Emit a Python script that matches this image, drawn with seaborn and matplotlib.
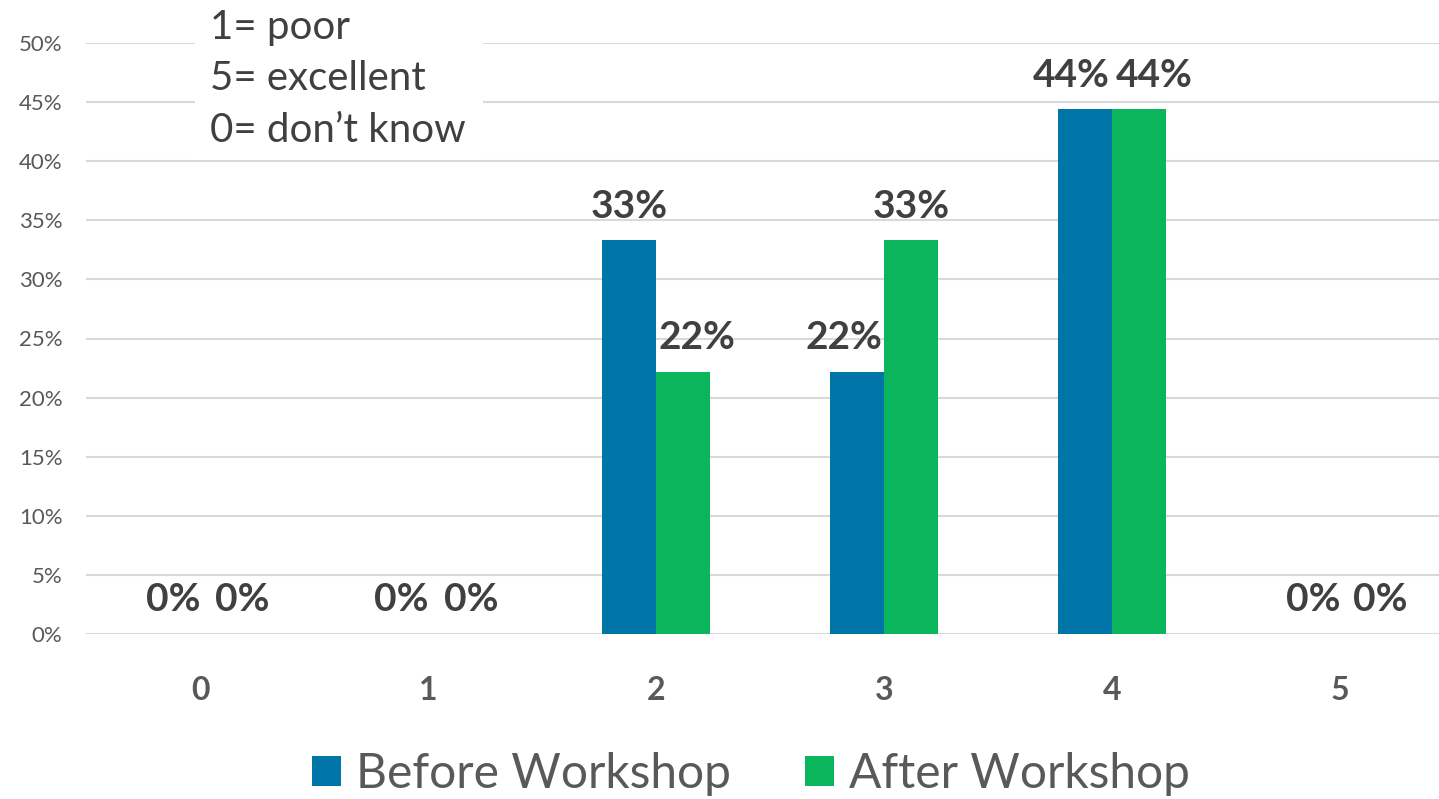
import matplotlib
matplotlib.use("Agg")
import matplotlib.pyplot as plt
import matplotlib.patches as mpatches
from matplotlib.ticker import PercentFormatter
import seaborn as sns
import pandas as pd

# Ratings given by workshop participants (share of respondents)
ratings = ["0", "1", "2", "3", "4", "5"]
before_workshop = [0.0, 0.0, 0.333, 0.222, 0.444, 0.0]
after_workshop = [0.0, 0.0, 0.222, 0.333, 0.444, 0.0]
series_names = ["Before Workshop", "After Workshop"]
colors = ["#0076A8", "#0BB55B"]
scale_notes = ["1= poor", "5= excellent", "0= don\u2019t know"]

# Sideways nudges (in pixels) that keep neighbouring value labels apart
label_nudge = [
    [0, 0, 0, -13, -14, 0],
    [15, 16, 14, 0, 15, 13],
]

df = pd.DataFrame({
    "rating": ratings * 2,
    "share": before_workshop + after_workshop,
    "when": [series_names[0]] * len(ratings) + [series_names[1]] * len(ratings),
})

sns.set_theme(style="white")
plt.rcParams["font.family"] = ["Lato", "DejaVu Sans"]

W, H = 1439, 799
DPI = 100
fig = plt.figure(figsize=(W / DPI, H / DPI), dpi=DPI)
ax_left, ax_right, ax_top, ax_bottom = 86, 1439, 43, 634
ax = fig.add_axes([ax_left / W, 1 - ax_bottom / H,
                   (ax_right - ax_left) / W, (ax_bottom - ax_top) / H])

sns.barplot(data=df, x="rating", y="share", hue="when", order=ratings,
            hue_order=series_names, palette=colors, width=0.475, gap=0,
            legend=False, ax=ax, saturation=1, edgecolor="none", linewidth=0)

ax.set_ylim(0, 0.5)
ax.set_xlim(-0.5, (ax_right - ax_left) / 228 - 0.5)
ax.set_yticks([i * 0.05 for i in range(11)])
ax.yaxis.set_major_formatter(PercentFormatter(1.0, decimals=0))
ax.grid(axis="y", color="#D9D9D9", linewidth=1.5)
ax.set_axisbelow(True)
for s in ax.spines.values():
    s.set_visible(False)
ax.set_xlabel("")
ax.set_ylabel("")
ax.tick_params(axis="y", length=0, pad=17, labelsize=16, labelcolor="#595959")
ax.tick_params(axis="x", length=0, pad=30, labelsize=23, labelcolor="#595959")
for t in ax.get_xticklabels():
    t.set_fontweight("bold")

# Value labels above each bar
px = 72 / DPI
for cont, nudges in zip(ax.containers, label_nudge):
    for bar, dx in zip(cont, nudges):
        v = bar.get_height()
        ax.annotate(f"{v:.0%}", (bar.get_x() + bar.get_width() / 2, v),
                    xytext=(dx * px, 12), textcoords="offset points",
                    ha="center", va="bottom", fontsize=28, fontweight="bold",
                    color="#404040", annotation_clip=False)

# Rating scale note in a white box over the grid
fig.patches.append(mpatches.Rectangle((195 / W, 1 - 160 / H), 288 / W, 160 / H,
                                      transform=fig.transFigure,
                                      facecolor="white", edgecolor="none",
                                      zorder=5))
for i, note in enumerate(scale_notes):
    fig.text(210 / W, 1 - (27 + 52 * i) / H, note, fontsize=29,
             color="#404040", va="center", ha="left", zorder=6)

handles = [mpatches.Patch(facecolor=c, edgecolor="none", label=n)
           for c, n in zip(colors, series_names)]
fig.legend(handles=handles, loc="center", bbox_to_anchor=(751 / W, 1 - 774 / H),
           ncol=2, frameon=False, fontsize=34.5, labelcolor="#595959",
           handlelength=0.6, handleheight=0.6, handletextpad=0.32,
           columnspacing=1.55)

fig.savefig("out.png", dpi=DPI)
